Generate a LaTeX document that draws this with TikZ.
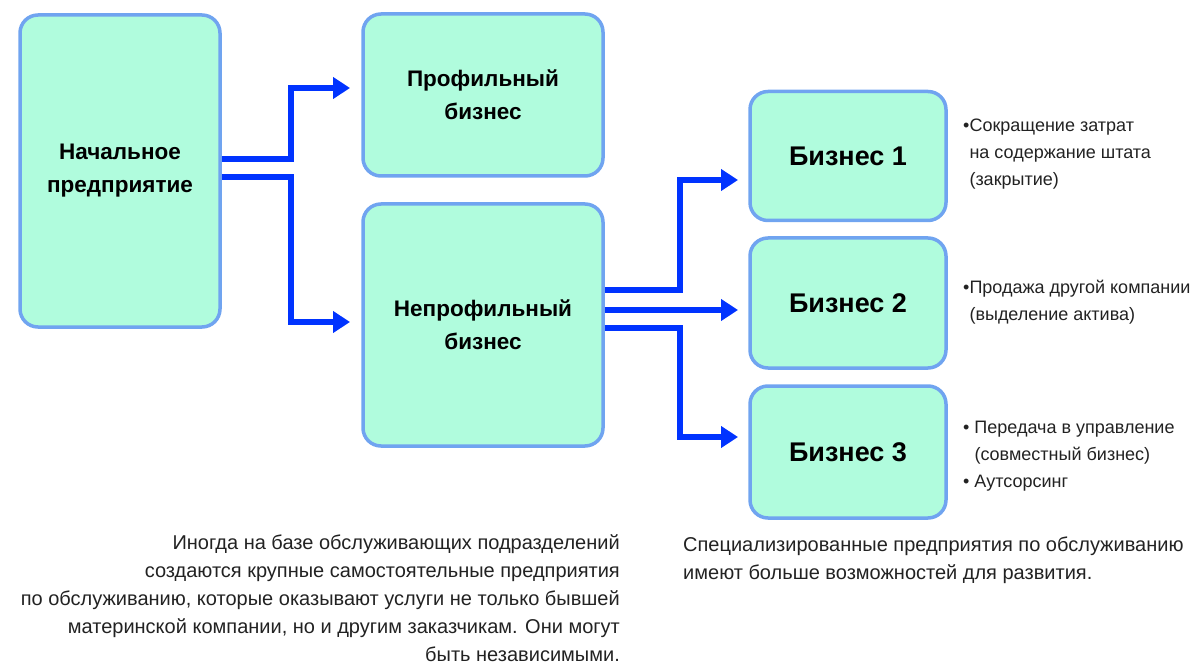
\documentclass[tikz,border=0pt]{standalone}
\usepackage{fontspec}
\setmainfont{Liberation Sans}
\usetikzlibrary{arrows.meta, positioning, calc}
\definecolor{mintfill}{RGB}{176, 252, 221}
\definecolor{boxedge}{RGB}{112, 164, 240}
\definecolor{linkblue}{RGB}{0, 51, 255}
\definecolor{notegray}{RGB}{34, 34, 34}

\begin{document}
\begin{tikzpicture}[x=1pt, y=-1pt,
    block/.style={rectangle, draw=boxedge, fill=mintfill, line width=3.5pt,
                  rounded corners=18pt, align=center, text=black,
                  font=\fontsize{22.5}{33}\selectfont\bfseries},
    unit/.style={block, minimum width=196pt, font=\fontsize{27}{32}\selectfont\bfseries},
    link/.style={linkblue, line width=6pt, -{Triangle[length=17pt, width=21pt]}},
    note/.style={align=left, text=notegray, inner sep=0pt, anchor=north west,
                 font=\fontsize{18}{27}\selectfont},
    para/.style={text=notegray, inner sep=0pt, font=\fontsize{20}{28}\selectfont}
]
\useasboundingbox (0,0) rectangle (1192,671);

%% Main enterprise and its two parts
\node[block, minimum width=200pt, minimum height=312pt] (start) at (120, 171) {Начальное\\предприятие};
\node[block, minimum width=240pt, minimum height=162pt] (core)  at (483, 95)  {Профильный\\бизнес};
\node[block, minimum width=240pt, minimum height=242pt] (noncore) at (483, 325) {Непрофильный\\бизнес};

%% Split of the non-core part
\node[unit, minimum height=129pt] (biz1) at (848, 156) {Бизнес 1};
\node[unit, minimum height=130pt] (biz2) at (848, 303) {Бизнес 2};
\node[unit, minimum height=132pt] (biz3) at (848, 452) {Бизнес 3};

%% Arrow ends (arrows stop short of the boxes)
\coordinate (inCore)    at (350, 88);
\coordinate (inNoncore) at (350, 322);
\coordinate (inBiz1)    at (738, 180);
\coordinate (inBiz2)    at (738, 310);
\coordinate (inBiz3)    at (738, 437);

\draw[link] (start.east |- 0,159) -- ++(69,0) |- (inCore);
\draw[link] (start.east |- 0,177) -- ++(69,0) |- (inNoncore);

\draw[link] (noncore.east |- 0,290) -- ++(75,0) |- (inBiz1);
\draw[link] (noncore.east |- 0,310) -- (inBiz2);
\draw[link] (noncore.east |- 0,328) -- ++(75,0) |- (inBiz3);

%% Options for each business
\node[note] (opt1) at (963, 119) {•Сокращение затрат\\\phantom{•}на содержание штата\\\phantom{•}(закрытие)};
\node[note] (opt2) at (963, 280) {•Продажа другой компании\\\phantom{•}(выделение актива)};
\node[note] (opt3) at (963, 421) {•\ Передача в управление\\\phantom{•\ }(совместный бизнес)\\•\ Аутсорсинг};

%% Comments under the diagram
\node[para, align=right, anchor=north east] (leftText) at (620, 534)
  {Иногда на базе обслуживающих подразделений\\
   создаются крупные самостоятельные предприятия\\
   по обслуживанию, которые оказывают услуги не только бывшей\\
   материнской компании, но и другим заказчикам. Они могут\\
   быть независимыми.};
\node[para, align=left, anchor=north west] (rightText) at (683, 537)
  {Специализированные предприятия по обслуживанию\\
   имеют больше возможностей для развития.};

\end{tikzpicture}
\end{document}
